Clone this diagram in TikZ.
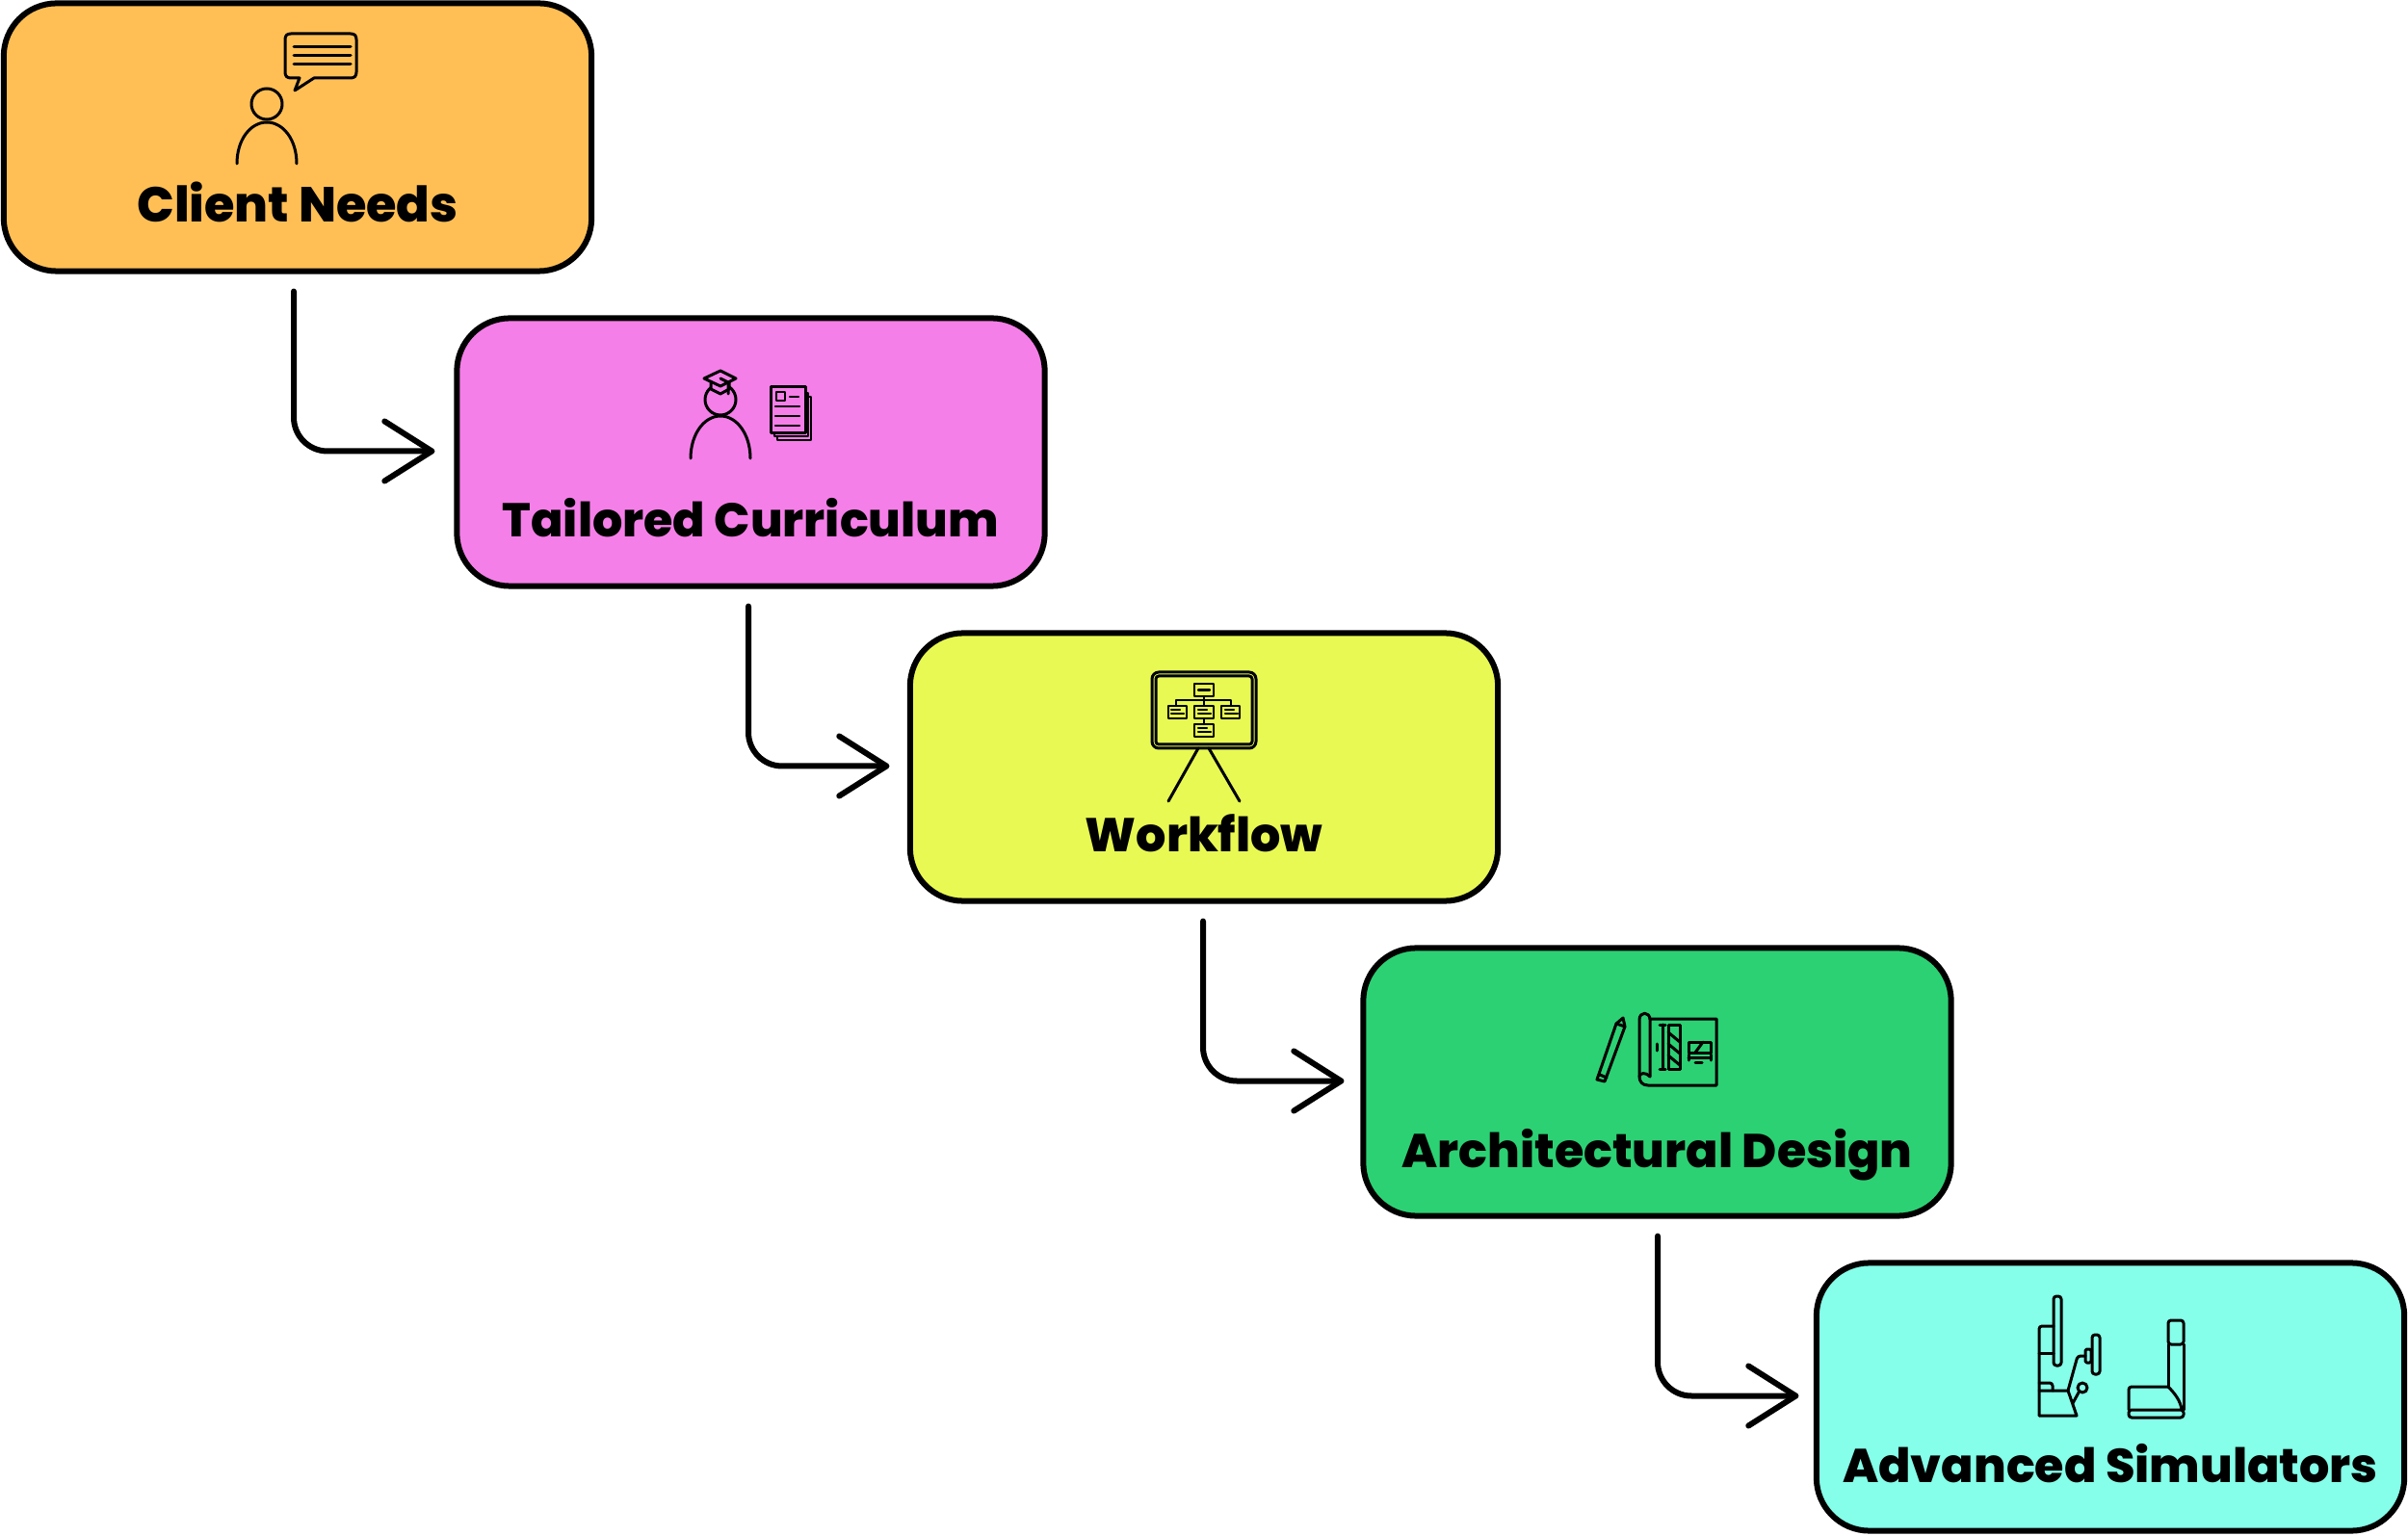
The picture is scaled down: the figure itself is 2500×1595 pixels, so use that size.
\documentclass[tikz,border=0pt]{standalone}
\usepackage{fontspec}
\setmainfont{Poppins}[BoldFont={Poppins ExtraBold}]
\usetikzlibrary{arrows.meta}
\definecolor{cOrange}{HTML}{FFBF55}
\definecolor{cPink}{HTML}{F57FE8}
\definecolor{cYellow}{HTML}{E8F953}
\definecolor{cGreen}{HTML}{2CD174}
\definecolor{cCyan}{HTML}{85FFE9}
\tikzset{
  card/.style={draw=black,line width=0.06cm,rounded corners=0.55cm,minimum width=6.1cm,minimum height=2.78cm,inner sep=0pt},
  title/.style={anchor=base,font=\fontsize{14pt}{16pt}\selectfont\bfseries,inner sep=0pt},
  conn/.style={draw=black,line width=0.06cm,line cap=round,line join=round,rounded corners=0.35cm},
  head/.style={draw=black,line width=0.06cm,line cap=round,line join=round},
  ico/.style={draw=black,line width=0.03cm,line cap=round,line join=round},
  icos/.style={draw=black,line width=0.022cm,line cap=round,line join=round}
}
\begin{document}
\begin{tikzpicture}[x=0.01cm,y=-0.01cm]
\useasboundingbox (0,0) rectangle (2500,1595);
% cards
\node[card,fill=cOrange] (b1) at (309,142.5) {};
\node[card,fill=cPink]   (b2) at (779.5,469.5) {};
\node[card,fill=cYellow] (b3) at (1250,796.5) {};
\node[card,fill=cGreen]  (b4) at (1720.5,1123.5) {};
\node[card,fill=cCyan]   (b5) at (2191,1450.5) {};
% titles
\node[title,font=\fontsize{14.5pt}{16pt}\selectfont\bfseries] (t1) at (309,231) {Client Needs};
\node[title] (t2) at (779.5,558) {Tailored Curriculum};
\node[title] (t3) at (1250,885) {Workflow};
\node[title] (t4) at (1720.5,1212) {Architectural Design};
\node[title] (t5) at (2191,1539) {Advanced Simulators};
% connectors
\foreach \a/\b/\d in {b1/b2/0,b2/b3/1.5,b3/b4/3,b4/b5/4.5}{
  \coordinate (s) at ([xshift=-0.04cm+\d*0.01cm,yshift=-0.18cm]\a.south);
  \coordinate (e) at ([xshift=-0.23cm+\d*0.01cm,yshift=0.01cm]\b.west);
  \draw[conn] (s) |- (e);
  \draw[head] ([xshift=-0.49cm,yshift=0.31cm]e) -- (e) -- ([xshift=-0.49cm,yshift=-0.31cm]e);
}
% icon 1
\draw[ico] (311,81) -- (302,81) .. controls (298,81) and (296,79) .. (296,75) -- (296,41) .. controls (296,37) and (298,35) .. (302,35) -- (364,35) .. controls (368,35) and (370,37) .. (370,41) -- (370,75) .. controls (370,79) and (368,81) .. (364,81) -- (326,81) -- (306,94) -- cycle;
\draw[ico] (305,49) -- (364,49) (305,58) -- (364,58) (305,67) -- (364,67);
\draw[ico] (277,108) circle[radius=16];
\draw[ico] (246,170) .. controls (246,145) and (260,127) .. (277,127) .. controls (294,127) and (308,145) .. (308,170);
% icon 2
\draw[ico] (748,415) circle[radius=16];
\draw[ico] (717,476) .. controls (717,451) and (731,432) .. (748,432) .. controls (765,432) and (779,451) .. (779,476);
\draw[ico,fill=cPink] (738,397) -- (738,404) -- (748,409) -- (757,404) -- (757,397);
\draw[ico,fill=cPink] (731,393) -- (748,385) -- (764,393) -- (748,401) -- cycle;
\draw[ico] (748,393) -- (756,397) -- (756,409);
\draw[icos,fill=cPink] (807,412) rectangle (842,457);
\draw[icos,fill=cPink] (804,408) rectangle (839,453);
\draw[icos,line width=0.03cm,fill=cPink] (800,402) rectangle (836,450);
\draw[icos] (806,407) rectangle (815,416);
\draw[icos] (820,412) -- (829,412) (805,422) -- (830,422) (805,432) -- (830,432) (805,442) -- (830,442);
% icon 3
\draw[ico,rounded corners=0.07cm] (1196,698) rectangle (1304,777);
\draw[ico,rounded corners=0.03cm] (1200,702) rectangle (1300,773);
\draw[ico] (1244,777) -- (1213,832) (1255,777) -- (1287,832);
\draw[icos] (1240,710) rectangle (1260,723);
\draw[icos] (1213,733) rectangle (1232,746);
\draw[icos] (1240,733) rectangle (1260,746);
\draw[icos] (1268,733) rectangle (1287,746);
\draw[icos] (1240,752) rectangle (1260,765);
\draw[icos] (1250,723) -- (1250,733) (1221,733) -- (1221,727) -- (1278,727) -- (1278,733) (1250,746) -- (1250,752);
\draw[icos] (1244,716.5) -- (1256,716.5);
\foreach \x/\y in {1216/737,1244/737,1272/737,1244/756}{
  \draw[icos] (\x,\y) -- (\x+9,\y) (\x,\y+4) -- (\x+13,\y+4);
}
% icon 4
\draw[ico] (1685,1057) -- (1687,1066) -- (1666,1123) -- (1658,1121) -- (1678,1063) -- cycle;
\draw[ico] (1678,1063) -- (1687,1066) (1661,1116) -- (1668,1119);
\draw[ico] (1713,1058) -- (1782,1058) -- (1782,1127) -- (1711,1127) .. controls (1705,1127) and (1702,1123) .. (1702,1118) -- (1702,1059) .. controls (1702,1050) and (1713,1050) .. (1713,1059) -- (1713,1118);
\draw[ico] (1702,1118) .. controls (1702,1114) and (1709,1113) .. (1713,1118);
\draw[ico] (1732,1064) rectangle (1744,1110);
\draw[ico] (1732,1072) -- (1744,1082) (1732,1084) -- (1744,1094) (1732,1096) -- (1744,1106);
\draw[ico] (1723,1064) -- (1729,1064) (1726,1064) -- (1726,1110) (1723,1110) -- (1729,1110);
\draw[ico] (1720,1084) -- (1720,1091);
\draw[ico] (1753,1082) rectangle (1776,1093);
\draw[ico] (1760,1093) -- (1768,1082);
\draw[ico] (1753,1095) -- (1753,1101) (1753,1098) -- (1776,1098) (1776,1095) -- (1776,1101);
\draw[ico] (1760,1103) -- (1767,1103);
% icon 5
\draw[ico,rounded corners=0.03cm] (2132,1346) rectangle (2140,1418);
\draw[ico,rounded corners=0.03cm] (2132,1377) -- (2117,1377) -- (2117,1470);
\draw[ico] (2117,1470) -- (2156,1470) -- (2147,1444) -- (2117,1444);
\draw[ico] (2117,1405) -- (2132,1405);
\draw[ico,rounded corners=0.03cm] (2117,1436) -- (2131,1436) -- (2131,1444);
\draw[ico,rounded corners=0.03cm] (2147,1444) -- (2157,1408) -- (2165,1408);
\draw[ico,rounded corners=0.015cm] (2165,1401) rectangle (2171,1415);
\draw[ico,rounded corners=0.03cm] (2172,1386) rectangle (2180,1427);
\draw[ico] (2162,1441) circle[radius=5];
\draw[ico] (2152,1457) -- (2158,1446);
\draw[ico,rounded corners=0.03cm] (2251,1371) rectangle (2267,1396);
\draw[ico] (2251,1396) -- (2251,1440) (2267,1396) -- (2267,1464);
\draw[ico,rounded corners=0.03cm] (2251,1440) -- (2210,1440) -- (2210,1464);
\draw[ico] (2251,1440) .. controls (2258,1447) and (2264,1455) .. (2265,1464);
\draw[ico,rounded corners=0.03cm] (2210,1464) rectangle (2267,1472);
\end{tikzpicture}
\end{document}
